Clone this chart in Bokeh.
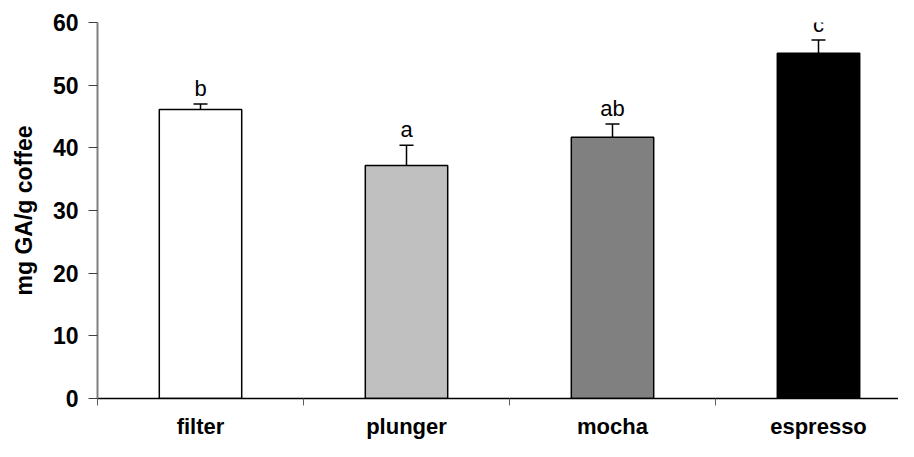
from bokeh.plotting import figure
from bokeh.models import ColumnDataSource, Range1d, FixedTicker, Whisker, TeeHead, LabelSet
from bokeh.core.properties import value
from bokeh.embed import file_html
from bokeh.resources import INLINE

categories = ["filter", "plunger", "mocha", "espresso"]
means = [46.1, 37.2, 41.7, 55.1]
errors = [0.9, 3.2, 2.1, 2.1]
letters = ["b", "a", "ab", "c"]
fills = ["#ffffff", "#c0c0c0", "#808080", "#000000"]
y_ticks = [0, 10, 20, 30, 40, 50, 60]

xpos = [i + 0.5 for i in range(len(categories))]
tops = [m + e for m, e in zip(means, errors)]
src = ColumnDataSource(dict(x=xpos, top=means, upper=tops, lab=letters, fill=fills))

p = figure(width=898, height=441, output_backend="svg", toolbar_location=None,
           x_range=Range1d(0, 801 / 206), y_range=Range1d(0, 60),
           min_border_left=97, min_border_right=0, min_border_top=22, min_border_bottom=41)
p.outline_line_color = None
p.xgrid.visible = False
p.ygrid.visible = False

p.vbar(x="x", top="top", bottom=0, width=0.4, fill_color="fill",
       line_color="black", line_width=1.5, source=src)

w = Whisker(base="x", lower="top", upper="upper", source=src, dimension="height",
            line_color="black", line_width=1.5,
            upper_head=TeeHead(size=14, line_color="black", line_width=1.5), lower_head=None)
p.add_layout(w)

labels = LabelSet(x="x", y="upper", text="lab", source=src, text_align="center",
                  text_baseline="alphabetic", y_offset=8, text_font=value("Liberation Sans"),
                  text_font_size=value("22px"), text_color="black")
p.add_layout(labels)

xa = p.xaxis[0]
xa.ticker = FixedTicker(ticks=xpos, minor_ticks=[0, 1, 2, 3, 4])
xa.major_label_overrides = {x: c for x, c in zip(xpos, categories)}
xa.major_tick_out = 0
xa.major_tick_in = 0
xa.minor_tick_out = 7
xa.minor_tick_in = 0
xa.minor_tick_line_color = "#606060"
xa.axis_line_color = "black"
xa.axis_line_width = 1.5
xa.major_label_text_font = "Liberation Sans"
xa.major_label_text_font_style = "bold"
xa.major_label_text_font_size = "22px"
xa.major_label_text_color = "black"
xa.major_label_standoff = 8

ya = p.yaxis[0]
ya.ticker = FixedTicker(ticks=y_ticks)
ya.axis_line_color = "#808080"
ya.axis_line_width = 2
ya.major_tick_out = 9
ya.major_tick_in = 0
ya.major_tick_line_color = "#404040"
ya.minor_tick_line_color = None
ya.major_label_text_font = "Liberation Sans"
ya.major_label_text_font_style = "bold"
ya.major_label_text_font_size = "23px"
ya.major_label_text_color = "black"
ya.major_label_standoff = 10
ya.axis_label = "mg GA/g coffee"
ya.axis_label_text_font = "Liberation Sans"
ya.axis_label_text_font_style = "bold"
ya.axis_label_text_font_size = "23px"
ya.axis_label_text_color = "black"
ya.axis_label_standoff = 13

open("out.html", "w").write(file_html(p, INLINE))
